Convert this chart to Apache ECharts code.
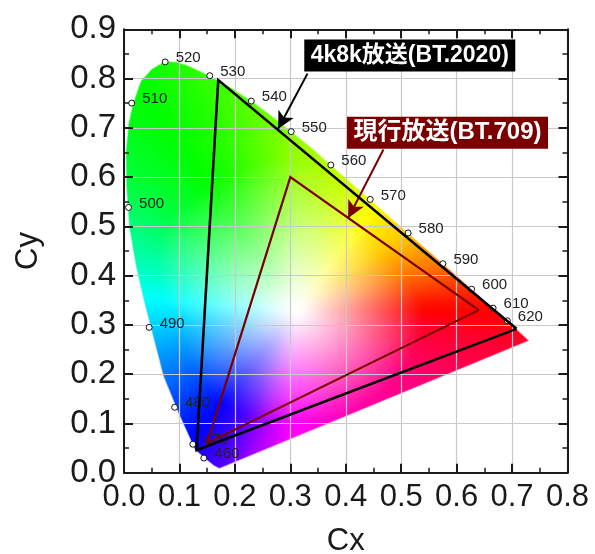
<!DOCTYPE html>
<html>
<head>
<meta charset="utf-8">
<script src="https://cdn.jsdelivr.net/npm/echarts@6/dist/echarts.min.js"></script>
<style>html,body{margin:0;padding:0;background:#fff}#c{width:595px;height:554px}</style>
</head>
<body>
<div id="c"></div>
<script>
const spectralPoints = [
  [0.144,0.0297,'460'],[0.1241,0.0578,'470'],[0.0913,0.1327,'480'],[0.0454,0.295,'490'],
  [0.0082,0.5384,'500'],[0.0139,0.7502,'510'],[0.0743,0.8338,'520'],[0.1547,0.8059,'530'],
  [0.2296,0.7543,'540'],[0.3016,0.6923,'550'],[0.3731,0.6245,'560'],[0.4441,0.5547,'570'],
  [0.5125,0.4866,'580'],[0.5752,0.4242,'590'],[0.627,0.3725,'600'],[0.6658,0.334,'610'],[0.6915,0.3083,'620']
];
const locusOutline = [
  [0.172,0.008],[0.162,0.014],[0.151,0.024],[0.128,0.046],[0.098,0.121],[0.071,0.195],[0.035,0.351],
  [0.021,0.42],[0.009,0.5],[0.004,0.58],[0.003,0.65],[0.008,0.71],[0.016,0.75],[0.03,0.795],[0.05,0.82],
  [0.073,0.835],[0.095,0.834],[0.115,0.827],[0.155,0.806],[0.193,0.782],[0.23,0.755],[0.266,0.725],
  [0.302,0.693],[0.338,0.66],[0.373,0.625],[0.444,0.555],[0.5125,0.487],[0.575,0.425],[0.627,0.373],
  [0.666,0.334],[0.708,0.292],[0.731,0.268]
];
const bt2020 = [[0.708,0.292],[0.17,0.797],[0.131,0.046],[0.708,0.292]];
const bt709 = [[0.64,0.33],[0.3,0.6],[0.15,0.06],[0.64,0.33]];
const arrow2020 = [[0.331,0.81],[0.278,0.698]];
const arrow709 = [[0.468,0.656],[0.4045,0.517]];
const callout2020 = [0.5155,0.847,'4k8k放送(BT.2020)'];
const callout709 = [0.5836,0.69,'現行放送(BT.709)'];

// colour field: hue and saturation reach, by direction around the white point
const hueByAngle = [[-35,-30],[-9,-10],[4,5],[20,28],[38,48],[50,55],[65,68],[90,85],[112,112],[140,135],[155,155],[175,180],[188,192],[212,215],[235,240],[248,260],[256,280],[268,300],[297,320],[325,330]];
const reachByAngle = [[-35,.22],[0,.22],[38,.18],[90,.3],[147,.28],[188,.2],[230,.22],[270,.22],[325,.22]];
const lookup=(t,a)=>{
  for(let i=1;i<t.length;i++) if(a<=t[i][0]){const p=t[i-1],q=t[i];return p[1]+(q[1]-p[1])*(a-p[0])/(q[0]-p[0]);}
  return t[t.length-1][1];
};
function fieldColor(x,y){
  const dx=x-0.31, dy=y-0.33, d=Math.hypot(dx,dy);
  let a=Math.atan2(dy,dx)*180/Math.PI; if(a<-35) a+=360;
  const h=((lookup(hueByAngle,a)%360)+360)%360/60, s=Math.min(1,Math.max(0,(d-0.01)/lookup(reachByAngle,a)));
  const i=Math.floor(h), f=h-i, m=1-s, q=1-s*f, t=1-s*(1-f);
  const c=[[1,t,m],[q,1,m],[m,1,t],[m,q,1],[t,m,1],[1,m,q]][i%6];
  return c.map(v=>v*255);
}
let texture=null;
function buildTexture(api){
  if(texture) return texture;
  const W=595,H=554,p0=api.coord([0,0]),p1=api.coord([0.8,0.9]);
  const cv=document.createElement('canvas'); cv.width=W; cv.height=H;
  const ctx=cv.getContext('2d'), im=ctx.createImageData(W,H);
  for(let py=0;py<H;py++) for(let px=0;px<W;px++){
    const x=(px+.5-p0[0])/(p1[0]-p0[0])*0.8, y=(py+.5-p0[1])/(p1[1]-p0[1])*0.9;
    const c=fieldColor(x,y), i=(py*W+px)*4;
    im.data[i]=c[0];im.data[i+1]=c[1];im.data[i+2]=c[2];im.data[i+3]=255;
  }
  ctx.putImageData(im,0,0);
  const out=document.createElement('canvas'); out.width=W; out.height=H;
  const o=out.getContext('2d');
  o.drawImage(cv,0,0);
  o.filter='blur(3px)';
  o.drawImage(cv,0,0);
  return texture=out;
}

const latin='"Liberation Sans",Arial,sans-serif';
const cjk='"Liberation Sans","Noto Sans CJK JP",sans-serif';
const axisCommon={min:0,interval:0.1,
  axisLine:{show:true,onZero:false,lineStyle:{color:'#1a1a1a',width:2}},
  axisTick:{show:true,inside:true,length:9,lineStyle:{color:'#1a1a1a',width:2}},
  minorTick:{show:true,splitNumber:2,length:5,lineStyle:{color:'#1a1a1a',width:1.5}},
  z:3};
const chart=echarts.init(document.getElementById('c'),null,{renderer:'canvas'});
const lineSeries=(d,color,w)=>({type:'line',data:d,symbol:'none',silent:true,z:6,animation:false,clip:false,
  lineStyle:{color:color,width:w,join:'miter'}});
const arrowSeries=(d,color)=>({type:'scatter',data:[],z:7,silent:true,animation:false,
  markLine:{silent:true,animation:false,symbol:['none','arrow'],symbolSize:[13,17],precision:4,
    lineStyle:{color:color,width:2,type:'solid'},label:{show:false},
    data:[[{coord:d[0]},{coord:d[1]}]]}});
const calloutSeries=(d,bg,w,fs)=>({type:'scatter',data:[[d[0],d[1]]],symbolSize:0,z:9,silent:true,animation:false,
  itemStyle:{opacity:1},
  label:{show:true,position:'inside',formatter:d[2],color:'#fff',fontWeight:'bold',fontFamily:cjk,fontSize:fs,opacity:1,
    backgroundColor:bg,width:w,height:32,lineHeight:32,align:'center',verticalAlign:'middle'}});

chart.setOption({
  animation:false,
  backgroundColor:'#fff',
  grid:{left:124,right:27.5,top:29.3,bottom:81.3,show:false,outerBoundsMode:'none'},
  xAxis:[
    Object.assign({},axisCommon,{type:'value',max:0.8,position:'bottom',name:'Cx',nameLocation:'middle',nameGap:53,
      nameTextStyle:{fontFamily:latin,fontSize:31,color:'#1a1a1a'},
      axisLabel:{margin:9,fontFamily:latin,fontSize:31,color:'#1a1a1a',formatter:v=>v.toFixed(1)},
      splitLine:{show:true,lineStyle:{color:'#c9c9c9',width:1.2}}}),
    Object.assign({},axisCommon,{type:'value',max:0.8,position:'top',axisLabel:{show:false},splitLine:{show:false}})
  ],
  yAxis:[
    Object.assign({},axisCommon,{type:'value',max:0.9,position:'left',name:'Cy',nameLocation:'middle',nameGap:80,
      nameTextStyle:{fontFamily:latin,fontSize:31,color:'#1a1a1a'},
      axisLabel:{margin:8,fontFamily:latin,fontSize:33,color:'#1a1a1a',formatter:v=>v.toFixed(1)},
      splitLine:{show:true,lineStyle:{color:'#c9c9c9',width:1.2}}}),
    Object.assign({},axisCommon,{type:'value',max:0.9,position:'right',axisLabel:{show:false},splitLine:{show:false}})
  ],
  series:[
    {type:'custom',z:2,silent:true,animation:false,clip:false,data:[[0,0]],
      renderItem:(params,api)=>({type:'polygon',
        shape:{points:locusOutline.map(p=>api.coord(p))},
        style:{fill:{image:buildTexture(api),repeat:'no-repeat'},stroke:'rgba(255,255,255,0.5)',lineWidth:1.5}})},
    {type:'scatter',z:4,silent:true,animation:false,data:spectralPoints,symbol:'circle',symbolSize:6,
      itemStyle:{color:'#fff',borderColor:'#111',borderWidth:1,opacity:1},
      label:{show:true,position:'right',distance:7,offset:[0,-4],formatter:p=>p.data[2],
        fontFamily:latin,fontSize:15,color:'#222'}},
    lineSeries(bt2020,'#000',2.6),
    lineSeries(bt709,'#7a0000',2.2),
    arrowSeries(arrow2020,'#000'),
    arrowSeries(arrow709,'#7a0000'),
    calloutSeries(callout2020,'#000',211,23),
    calloutSeries(callout709,'#7a0000',201,24)
  ]
});
</script>
</body>
</html>
